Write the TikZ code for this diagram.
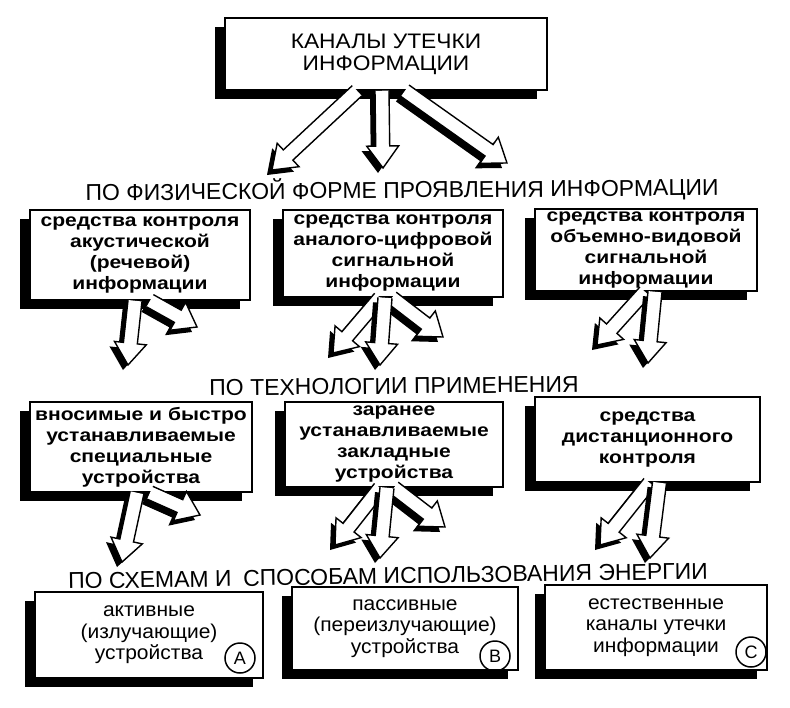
\documentclass[tikz,border=0pt]{standalone}
\usepackage{fontspec}
\setmainfont{Liberation Sans}
\newfontfamily\boxfont[FakeStretch=1.17]{Liberation Sans}
\newfontfamily\plainfont[FakeStretch=1.05]{Liberation Sans}
\newfontfamily\topfont[FakeStretch=1.085]{Liberation Sans}
\usetikzlibrary{calc,shadows}

\newcommand{\arrowpts}{($(ha)!7pt!90:(hb)$) -- ($(hc)!7pt!90:(hb)$) -- ($(hc)!16pt!90:(hb)$) -- (hb) -- ($(hc)!16pt!-90:(hb)$) -- ($(hc)!7pt!-90:(hb)$) -- ($(ha)!7pt!-90:(hb)$)}
\newcommand{\harrow}[2]{%
  \coordinate (ha) at #1;
  \coordinate (hb) at #2;
  \coordinate (hc) at ($(hb)!22pt!(ha)$);
  \begin{scope}[transform canvas={shift={(-5pt,-5pt)}}]
    \fill[black] \arrowpts -- cycle;
  \end{scope}
  \fill[white] \arrowpts -- cycle;
  \draw[arrline] \arrowpts;
}

\tikzset{
  box/.style={draw=black, line width=1.5pt, fill=white, align=center, inner sep=2pt,
    drop shadow={shadow xshift=-10pt, shadow yshift=-9pt, opacity=1, fill=black}},
  boldtext/.style={font=\boxfont\bfseries\fontsize{18}{21}\selectfont},
  plaintext/.style={font=\plainfont\fontsize{20}{21.5}\selectfont},
  heading/.style={font=\fontsize{23}{26}\selectfont, inner sep=0pt},
  arrline/.style={draw=black, line width=1.4pt, line join=miter},
  letter/.style={circle, draw=black, line width=1.5pt, minimum size=30pt, inner sep=0pt,
    font=\fontsize{18}{18}\selectfont}
}

\begin{document}
\begin{tikzpicture}[x=1pt, y=-1pt]
\useasboundingbox (0,0) rectangle (790,707);
\fill[white] (0,0) rectangle (790,707);

% top box
\node[box, minimum width=322pt, minimum height=72pt, font=\topfont\fontsize{21}{22}\selectfont]
  (top) at (386,54) {КАНАЛЫ УТЕЧКИ\\ИНФОРМАЦИИ};

% row 1
\node[box, boldtext, minimum width=220pt, minimum height=90pt] (b11) at (140,255)
  {средства контроля\\акустической\\(речевой)\\информации};
\node[box, boldtext, minimum width=220pt, minimum height=87pt] (b12) at (393,253.5)
  {средства контроля\\аналого-цифровой\\сигнальной\\информации};
\node[box, boldtext, minimum width=222pt, minimum height=82pt] (b13) at (646,250)
  {средства контроля\\объемно-видовой\\сигнальной\\информации};

% row 2
\node[box, boldtext, minimum width=222pt, minimum height=90pt] (b21) at (141,447)
  {вносимые и быстро\\устанавливаемые\\специальные\\устройства};
\node[box, boldtext, minimum width=218pt, minimum height=85pt] (b22) at (394,444.5)
  {заранее\\устанавливаемые\\закладные\\устройства};
\node[box, boldtext, minimum width=225pt, minimum height=85pt] (b23) at (647.5,439.5)
  {средства\\дистанционного\\контроля};

% row 3
\node[box, plaintext, minimum width=228pt, minimum height=86pt] (b31) at (149,635)
  {активные\\(излучающие)\\устройства};
\node[box, plaintext, minimum width=226pt, minimum height=83pt] (b32) at (405,628.5)
  {пассивные\\(переизлучающие)\\устройства};
\node[box, plaintext, minimum width=222pt, minimum height=85pt] (b33) at (656,627.5)
  {естественные\\каналы утечки\\информации};

\node[letter] (la) at (240,658) {A};
\node[letter] (lb) at (495,656) {B};
\node[letter] (lc) at (751,652) {C};

% free ends of the arrows
\coordinate (e0l) at (272,170);
\coordinate (e0c) at (383,168);
\coordinate (e0r) at (507,163);
\coordinate (e11c) at (128,365);
\coordinate (e11r) at (197,327);
\coordinate (e12l) at (333,353);
\coordinate (e12c) at (380,365);
\coordinate (e12r) at (443,337);
\coordinate (e13l) at (597,345);
\coordinate (e13c) at (648,363);
\coordinate (e21c) at (122,562);
\coordinate (e21r) at (200,515);
\coordinate (e22l) at (335,545);
\coordinate (e22c) at (380,558);
\coordinate (e22r) at (445,527);
\coordinate (e23l) at (600,545);
\coordinate (e23c) at (650,558);

% arrows
\harrow{($(top.south)+(-29,0)$)}{(e0l)}
\harrow{($(top.south)+(19,0)$)}{(e0r)}
\harrow{($(top.south)+(-4,0)$)}{(e0c)}

\harrow{($(b11.south)+(10,0)$)}{(e11r)}
\harrow{($(b11.south)+(-5,0)$)}{(e11c)}

\harrow{($(b12.south)+(-13,0)$)}{(e12l)}
\harrow{($(b12.south)+(-1,0)$)}{(e12r)}
\harrow{($(b12.south)+(-8,0)$)}{(e12c)}

\harrow{($(b13.south)+(-1,0)$)}{(e13l)}
\harrow{($(b13.south)+(9,0)$)}{(e13c)}

\harrow{($(b21.south)+(9,0)$)}{(e21r)}
\harrow{($(b21.south)+(-4,0)$)}{(e21c)}

\harrow{($(b22.south)+(-14,0)$)}{(e22l)}
\harrow{($(b22.south)+(0,0)$)}{(e22r)}
\harrow{($(b22.south)+(-7,0)$)}{(e22c)}

\harrow{($(b23.south)+(2,0)$)}{(e23l)}
\harrow{($(b23.south)+(12,0)$)}{(e23c)}

% headings
\node[heading, rotate=0.5] (h1) at (402,190) {ПО ФИЗИЧЕСКОЙ ФОРМЕ ПРОЯВЛЕНИЯ ИНФОРМАЦИИ};
\node[heading, rotate=0.6] (h2) at (394,386) {ПО ТЕХНОЛОГИИ ПРИМЕНЕНИЯ};
\node[heading, rotate=0.9] (h3) at (388,576) {ПО СХЕМАМ И\enspace СПОСОБАМ ИСПОЛЬЗОВАНИЯ ЭНЕРГИИ};
\end{tikzpicture}
\end{document}
